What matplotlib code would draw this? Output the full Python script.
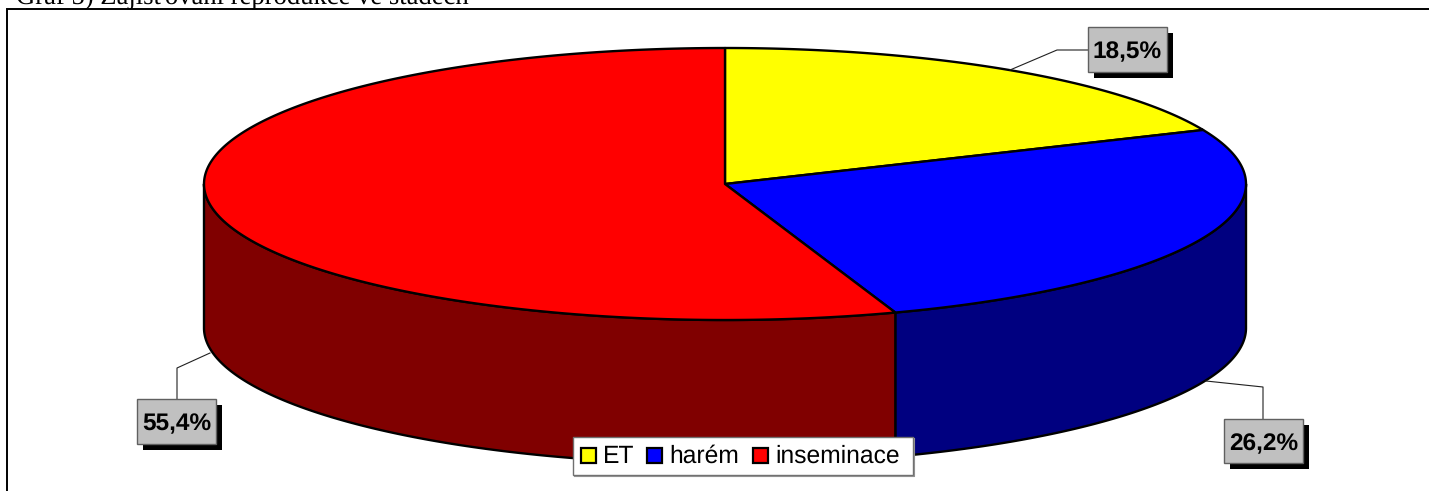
import numpy as np
import matplotlib
matplotlib.use("Agg")
import matplotlib.pyplot as plt
from matplotlib.patches import Polygon, Rectangle

plt.rcParams["text.hinting"] = "no_hinting"

categories = ["ET", "harém", "inseminace"]
shares = [18.5, 26.2, 55.4]
label_text = ["18,5%", "26,2%", "55,4%"]
top_colors = ["#FFFF00", "#0000FF", "#FF0000"]
side_colors = ["#808000", "#000080", "#800000"]
title = "Graf 5) Zajišťování reprodukce ve stádech"

W, H = 1429, 491
CX, CY, RX, RY, DEPTH = 725, 184, 521, 136, 144
LW = 1.7

fig = plt.figure(figsize=(W / 100, H / 100), dpi=100)
ax = fig.add_axes([0, 0, 1, 1])
ax.set_xlim(0, W)
ax.set_ylim(H, 0)
ax.axis("off")

def rim(a0, a1, dy=0.0):
    t = np.radians(np.linspace(a0, a1, 240))
    return np.column_stack([CX + RX * np.sin(t), CY + dy - RY * np.cos(t)])

edges = np.concatenate([[0], np.cumsum(shares)]) / 100 * 360
edges[-1] = 360

# visible side wall (right extreme to left extreme of the ellipse, clockwise)
for i in range(len(shares)):
    a0, a1 = max(edges[i], 90), min(edges[i + 1], 270)
    if a1 > a0:
        pts = np.vstack([rim(a0, a1), rim(a0, a1, DEPTH)[::-1]])
        ax.add_patch(Polygon(pts, closed=True, fc=side_colors[i], ec="black",
                             lw=LW, joinstyle="round", zorder=2))

# top face
for i in range(len(shares)):
    pts = np.vstack([[CX, CY], rim(edges[i], edges[i + 1])])
    ax.add_patch(Polygon(pts, closed=True, fc=top_colors[i], ec="black",
                         lw=LW, joinstyle="round", zorder=3))

# frame and caption (the caption is cut by the top edge, as in the reference)
ax.plot([7, 7, W], [H, 9, 9], color="black", lw=1.4, zorder=1, solid_joinstyle="miter")
ax.text(16, 3, title, family="Liberation Serif", fontsize=19.2, color="black",
        ha="left", va="baseline", zorder=6)

# data labels: box (x0, y0, x1, y1), leader path
boxes = [(1088, 27, 1167, 72), (1224, 419, 1303, 463), (137, 399, 216, 444)]
leaders = [[(1010, 70), (1057, 50), (1088, 50)],
           [(1206, 381), (1263, 387), (1263, 419)],
           [(210, 353), (177, 368), (177, 399)]]
for txt, (x0, y0, x1, y1), path in zip(label_text, boxes, leaders):
    xs, ys = zip(*path)
    ax.plot(xs, ys, color="#202020", lw=0.8, zorder=4)
    ax.add_patch(Rectangle((x0 + 6, y0 + 6), x1 - x0, y1 - y0, fc="black", ec="none", zorder=5))
    ax.add_patch(Rectangle((x0, y0), x1 - x0, y1 - y0, fc="#C0C0C0", ec="#606060", lw=1.0, zorder=5.1))
    ax.text((x0 + x1) / 2, (y0 + y1) / 2 + 0.5, txt, family="Liberation Sans", weight="bold",
            fontsize=17.6, color="black", ha="center", va="center_baseline", zorder=5.2)

# legend
ax.add_patch(Rectangle((573, 437), 340, 38, fc="white", ec="#707070", lw=1.0, zorder=7))
ax.plot([574, 914, 914], [476, 476, 438], color="#909090", lw=0.8, zorder=7)
sw_x = [581, 647, 753]
tx_x = [603, 669, 775]
for name, col, sx, tx in zip(categories, top_colors, sw_x, tx_x):
    ax.add_patch(Rectangle((sx, 447.5), 15, 15, fc=col, ec="black", lw=1.6, zorder=8))
    ax.text(tx, 463, name, family="Liberation Sans", fontsize=17.7, color="black",
            ha="left", va="baseline", zorder=8)

fig.savefig("out.png", dpi=100)
